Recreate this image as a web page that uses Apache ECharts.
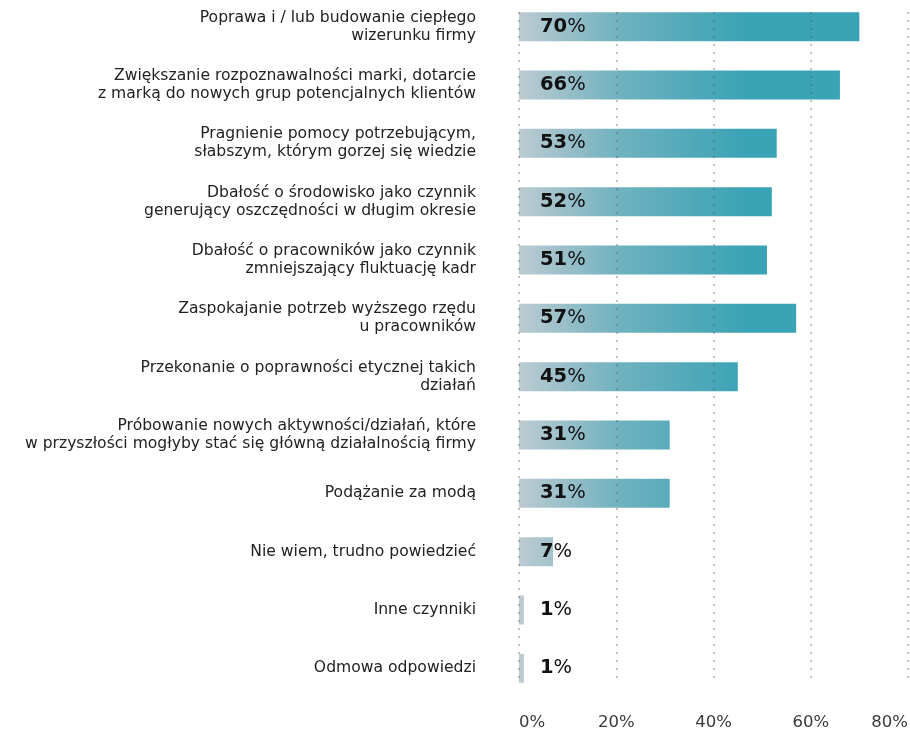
<!DOCTYPE html>
<html>
<head>
<meta charset="utf-8">
<script src="https://cdn.jsdelivr.net/npm/echarts@6/dist/echarts.min.js"></script>
<style>
  html, body { margin: 0; padding: 0; background: #fff; overflow: hidden; }
  #chart { width: 910px; height: 734px; }
</style>
</head>
<body>
<div id="chart"></div>
<script>
// Motives for CSR activity, share of answers (%)
const categories = [
  'Poprawa i / lub budowanie ciepłego\nwizerunku firmy',
  'Zwiększanie rozpoznawalności marki, dotarcie\nz marką do nowych grup potencjalnych klientów',
  'Pragnienie pomocy potrzebującym,\nsłabszym, którym gorzej się wiedzie',
  'Dbałość o środowisko jako czynnik\ngenerujący oszczędności w długim okresie',
  'Dbałość o pracowników jako czynnik\nzmniejszający fluktuację kadr',
  'Zaspokajanie potrzeb wyższego rzędu\nu pracowników',
  'Przekonanie o poprawności etycznej takich\ndziałań',
  'Próbowanie nowych aktywności/działań, które\nw przyszłości mogłyby stać się główną działalnością firmy',
  'Podążanie za modą',
  'Nie wiem, trudno powiedzieć',
  'Inne czynniki',
  'Odmowa odpowiedzi'
];
const values = [70, 66, 53, 52, 51, 57, 45, 31, 31, 7, 1, 1];
const tickValues = [0, 20, 40, 60, 80];

const FONT = '"DejaVu Sans", sans-serif';
const chart = echarts.init(document.getElementById('chart'));

const barFill = new echarts.graphic.LinearGradient(519, 0, 745, 0, [
  { offset: 0, color: '#bccbd1' },
  { offset: 0.45, color: '#6fb1bf' },
  { offset: 1, color: '#3aa3b5' }
], true);

chart.setOption({
  animation: false,
  grid: [
    { left: 519, right: 2, top: -2.5, height: 700, containLabel: false, outerBoundsMode: 'none' },
    { left: 519, right: 2, top: 12, bottom: 51, containLabel: false, outerBoundsMode: 'none' }
  ],
  xAxis: [
    {
      gridIndex: 0, type: 'value', min: 0, max: 80, interval: 20,
      axisLine: { show: false }, axisTick: { show: false },
      axisLabel: { show: false }, splitLine: { show: false }
    },
    {
      gridIndex: 1, type: 'value', min: 0, max: 80, interval: 20, z: 10,
      axisLine: { show: false }, axisTick: { show: false },
      axisLabel: {
        margin: 31, color: '#3a3a3a', fontFamily: FONT, fontSize: 16.5,
        alignMinLabel: 'left', alignMaxLabel: 'right',
        formatter: v => tickValues.indexOf(v) >= 0 ? v + '%' : ''
      },
      splitLine: {
        show: true,
        lineStyle: { color: 'rgba(80,80,80,0.35)', width: 2, type: [2, 6] }
      }
    }
  ],
  yAxis: [
    {
      gridIndex: 0, type: 'category', data: categories, inverse: true,
      axisLine: { show: false }, axisTick: { show: false },
      axisLabel: {
        margin: 43, color: '#222', fontFamily: FONT, fontSize: 15.6,
        lineHeight: 18, align: 'right'
      }
    },
    {
      gridIndex: 1, type: 'category', data: [''],
      show: false
    }
  ],
  series: [{
    type: 'bar',
    xAxisIndex: 0, yAxisIndex: 0,
    data: values,
    barWidth: 29,
    itemStyle: { color: barFill },
    label: {
      show: true,
      position: 'insideLeft',
      distance: 21,
      formatter: p => '{n|' + p.value + '}{p|%}',
      rich: {
        n: { fontFamily: FONT, fontSize: 19.5, fontWeight: 'bold', color: '#111' },
        p: { fontFamily: FONT, fontSize: 19.5, color: '#111' }
      }
    }
  }]
});
</script>
</body>
</html>
